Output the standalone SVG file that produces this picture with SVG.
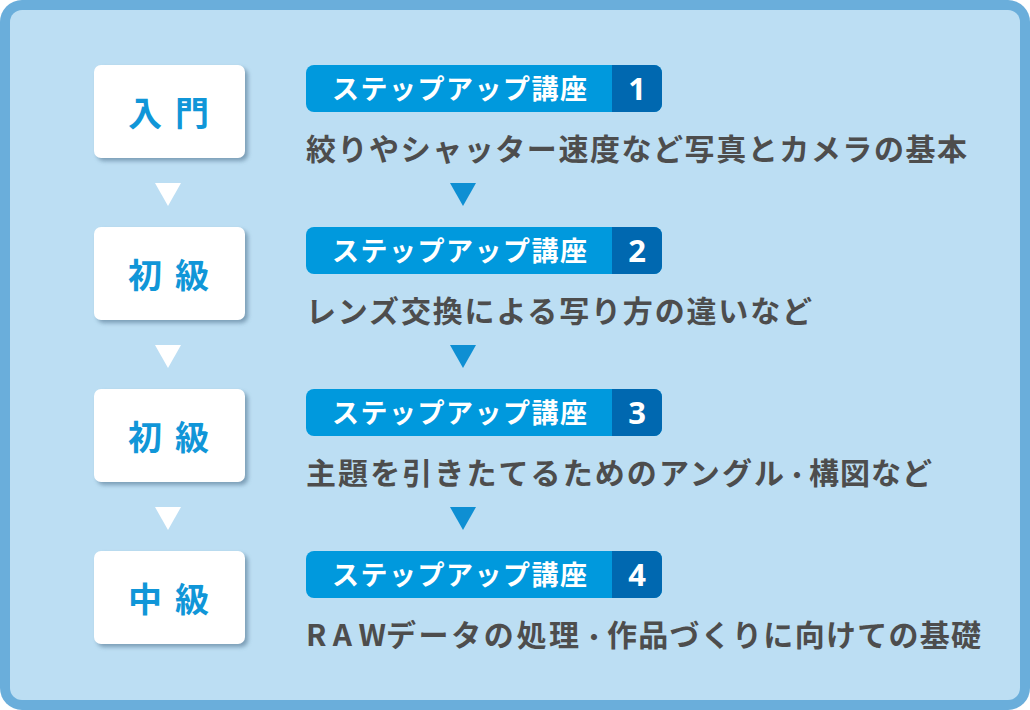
<svg xmlns="http://www.w3.org/2000/svg" width="1030" height="710" viewBox="0 0 1030 710">
<defs>
<style>
.lvl{font-family:"Noto Sans CJK JP","Noto Sans",sans-serif;font-weight:700;font-size:34px;fill:#1096d8;text-anchor:middle;letter-spacing:13px}
.hd{font-family:"Noto Sans CJK JP","Noto Sans",sans-serif;font-weight:700;font-size:27px;fill:#fff;letter-spacing:1.5px}
.num{font-family:"Noto Sans","Noto Sans CJK JP",sans-serif;font-weight:700;font-size:31px;fill:#fff;text-anchor:middle}
.desc{font-family:"Noto Sans CJK JP","Noto Sans",sans-serif;font-weight:700;font-size:30px;fill:#4d4d4d}
.dot{font-size:24px}
.box{fill:#fff}
.shadow{fill:#6f92ab;opacity:0.85}
.bar{fill:#0099dd}
.bard{fill:#0068b0}
.wtri{fill:#fff}
.btri{fill:#0e8fd3}
</style>
<filter id="blur" x="-10%" y="-10%" width="130%" height="130%"><feGaussianBlur stdDeviation="2"/></filter>
</defs>
<rect x="0" y="0" width="1030" height="710" rx="22" fill="#6aaedb"/>
<rect x="10" y="10" width="1010" height="690" rx="12" fill="#bcdef3"/>

<g id="level1">
<rect class="shadow" x="97" y="68" width="151" height="93" rx="7" filter="url(#blur)"/>
<rect class="box" x="94" y="65" width="151" height="93" rx="7"/>
<text class="lvl" x="175" y="126">入門</text>
</g>
<g id="level2">
<rect class="shadow" x="97" y="230" width="151" height="93" rx="7" filter="url(#blur)"/>
<rect class="box" x="94" y="227" width="151" height="93" rx="7"/>
<text class="lvl" x="175" y="288">初級</text>
</g>
<g id="level3">
<rect class="shadow" x="97" y="392" width="151" height="93" rx="7" filter="url(#blur)"/>
<rect class="box" x="94" y="389" width="151" height="93" rx="7"/>
<text class="lvl" x="175" y="450">初級</text>
</g>
<g id="level4">
<rect class="shadow" x="97" y="554" width="151" height="93" rx="7" filter="url(#blur)"/>
<rect class="box" x="94" y="551" width="151" height="93" rx="7"/>
<text class="lvl" x="175" y="612">中級</text>
</g>

<g id="course1">
<rect class="bar" x="306" y="65" width="356" height="47" rx="8"/>
<path class="bard" d="M612 65 H654 A8 8 0 0 1 662 73 V104 A8 8 0 0 1 654 112 H612 Z"/>
<text class="hd" x="332" y="99">ステップアップ講座</text>
<text class="num" x="637" y="100">1</text>
<text class="desc" x="306" y="160" textLength="661" lengthAdjust="spacing">絞りやシャッター速度など写真とカメラの基本</text>
</g>
<g id="course2">
<rect class="bar" x="306" y="227" width="356" height="47" rx="8"/>
<path class="bard" d="M612 227 H654 A8 8 0 0 1 662 235 V266 A8 8 0 0 1 654 274 H612 Z"/>
<text class="hd" x="332" y="261">ステップアップ講座</text>
<text class="num" x="637" y="262">2</text>
<text class="desc" x="306" y="322" textLength="506" lengthAdjust="spacing">レンズ交換による写り方の違いなど</text>
</g>
<g id="course3">
<rect class="bar" x="306" y="389" width="356" height="47" rx="8"/>
<path class="bard" d="M612 389 H654 A8 8 0 0 1 662 397 V428 A8 8 0 0 1 654 436 H612 Z"/>
<text class="hd" x="332" y="423">ステップアップ講座</text>
<text class="num" x="637" y="424">3</text>
<text class="desc" y="484"><tspan x="306" textLength="478" lengthAdjust="spacing">主題を引きたてるためのアングル</tspan><tspan class="dot" x="785">・</tspan><tspan x="809" textLength="123" lengthAdjust="spacing">構図など</tspan></text>
</g>
<g id="course4">
<rect class="bar" x="306" y="551" width="356" height="47" rx="8"/>
<path class="bard" d="M612 551 H654 A8 8 0 0 1 662 559 V590 A8 8 0 0 1 654 598 H612 Z"/>
<text class="hd" x="332" y="585">ステップアップ講座</text>
<text class="num" x="637" y="586">4</text>
<text class="desc" y="646"><tspan x="306" textLength="80" lengthAdjust="spacing">RAW</tspan><tspan x="386" textLength="193" lengthAdjust="spacing">データの処理</tspan><tspan class="dot" x="582">・</tspan><tspan x="607" textLength="374" lengthAdjust="spacing">作品づくりに向けての基礎</tspan></text>
</g>

<g id="connectors">
<polygon class="wtri" points="155,183 181,183 168,206"/>
<polygon class="wtri" points="155,345 181,345 168,368"/>
<polygon class="wtri" points="155,507 181,507 168,530"/>
<polygon class="btri" points="450,183 476,183 463,206"/>
<polygon class="btri" points="450,345 476,345 463,368"/>
<polygon class="btri" points="450,507 476,507 463,530"/>
</g>
</svg>
